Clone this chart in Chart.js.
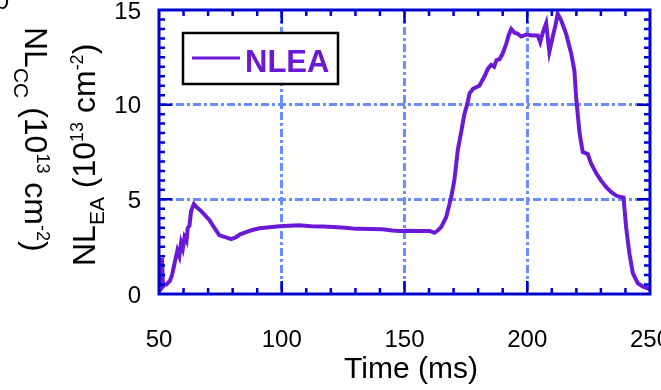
<!DOCTYPE html>
<html>
<head>
<meta charset="utf-8">
<script src="https://cdn.jsdelivr.net/npm/chart.js@4/dist/chart.umd.min.js"></script>
<style>
  html, body { margin: 0; padding: 0; background: #fff; }
  #nlChart { display: block; }
</style>
</head>
<body>
<canvas id="nlChart" width="661" height="390"></canvas>
<script>
// line-integrated density trace, time in ms
const timeMs = [50, 50.6, 51.2, 51.6, 52.2, 53, 54.5, 55.3, 56.3, 57.5, 58.3, 59, 59.7, 60.4, 61.2, 61.7,
    62.4, 63.1, 64.2, 65.2, 67, 70.6, 72.5, 74.6, 77, 79.4, 81.4, 83, 85.5, 88, 91, 95, 99, 103, 107,
    112, 117, 120.7, 126, 130.3, 136, 141, 145, 148, 152, 156, 160.2, 162.2, 163.5, 165, 167, 169,
    170.3, 171.7, 173, 174.4, 175.5, 176.5, 178, 180.5, 182.6, 184, 185.3, 186.5, 187.5, 188.7, 190,
    191.4, 192.5, 193.5, 194.8, 196, 197.5, 199.6, 202, 204.3, 205.3, 206.3, 207.7, 209, 210.4, 211.5,
    212.4, 213.8, 215.8, 217.9, 219.2, 219.9, 221.3, 222.6, 224.6, 226, 228, 230, 232.1, 234, 236.2,
    238, 239.2, 240.3, 241.6, 243, 245, 247, 249.1, 250];
const nlea = [0.1, 0.6, 1.9, 0.4, 0.5, 0.5, 0.7, 1.0, 1.6, 2.3, 2.0, 2.7, 2.4, 3.0, 2.8, 3.5,
    3.6, 4.4, 4.75, 4.6, 4.4, 3.9, 3.5, 3.1, 3.0, 2.9, 3.0, 3.15, 3.27, 3.38, 3.47, 3.52, 3.58, 3.6, 3.63,
    3.58, 3.56, 3.54, 3.5, 3.44, 3.43, 3.42, 3.36, 3.33, 3.34, 3.33, 3.33, 3.23, 3.35, 3.55, 4.07, 5.1,
    6.0, 7.6, 8.5, 9.5, 10.0, 10.6, 10.85, 11.0, 11.5, 11.9, 12.1, 12.0, 12.35, 12.4, 12.7,
    13.2, 13.7, 14.0, 13.8, 13.75, 13.6, 13.7, 13.65, 13.65, 13.3, 13.8, 14.3, 12.8, 13.6, 14.2,
    14.8, 14.45, 13.75, 12.7, 11.8, 10.4, 8.5, 7.5, 7.4, 6.9, 6.4, 6.0, 5.65, 5.4, 5.2,
    5.12, 5.1, 3.5, 2.15, 1.1, 0.57, 0.4, 0.3, 0.25];

const xTicks = [50, 100, 150, 200, 250];
const yTicks = [0, 5, 10, 15];

const lineColor = '#6a1ad6';
const frameColor = '#0000cc';
const gridColor = '#6a8cff';
const FONT = '"Liberation Sans", Arial, sans-serif';

// draws a run of text pieces (for sub/superscripts) along a rotated baseline
function drawRuns(ctx, runs, x, y, angle) {
    ctx.save();
    ctx.translate(x, y);
    ctx.rotate(angle);
    ctx.fillStyle = '#000';
    ctx.textBaseline = 'alphabetic';
    ctx.textAlign = 'left';
    let cx = 0;
    runs.forEach(r => {
        ctx.font = r.size + 'px ' + FONT;
        ctx.fillText(r.t, cx, r.dy || 0);
        cx += ctx.measureText(r.t).width;
    });
    ctx.restore();
}

const framePlugin = {
    id: 'frame',
    afterDatasetsDraw(chart) {
        const ctx = chart.ctx;
        const { left, right, top, bottom } = chart.chartArea;
        const xs = chart.scales.x, ys = chart.scales.y;

        ctx.save();
        ctx.strokeStyle = frameColor;
        ctx.lineWidth = 3;
        ctx.strokeRect(left, top, right - left, bottom - top);

        // inward ticks on all four sides
        ctx.lineWidth = 2.5;
        ctx.beginPath();
        for (let v = 60; v < 250; v += 10) {
            const px = xs.getPixelForValue(v);
            const len = v % 50 === 0 ? 13 : 6;
            ctx.moveTo(px, bottom); ctx.lineTo(px, bottom - len);
            ctx.moveTo(px, top); ctx.lineTo(px, top + len);
        }
        for (let v = 0.5; v < 15; v += 0.5) {
            const py = ys.getPixelForValue(v);
            const len = v % 5 === 0 ? 13 : 6;
            ctx.moveTo(left, py); ctx.lineTo(left + len, py);
            ctx.moveTo(right, py); ctx.lineTo(right - len, py);
        }
        ctx.stroke();

        // tick labels
        ctx.fillStyle = '#000';
        ctx.font = '24px ' + FONT;
        ctx.textAlign = 'center';
        ctx.textBaseline = 'alphabetic';
        xTicks.forEach(v => ctx.fillText(String(v), xs.getPixelForValue(v), 347));
        ctx.textAlign = 'right';
        ctx.textBaseline = 'middle';
        yTicks.forEach(v => ctx.fillText(String(v), 141, ys.getPixelForValue(v) + 2));

        // x axis title
        ctx.font = '30px ' + FONT;
        ctx.textAlign = 'center';
        ctx.textBaseline = 'alphabetic';
        ctx.fillText('Time (ms)', 411, 378);

        // y axis titles, one reading downwards and one reading upwards
        drawRuns(ctx, [
            { t: 'NL', size: 32 }, { t: 'CC', size: 21, dy: 11 },
            { t: ' (10', size: 32 }, { t: '13', size: 18, dy: -12 },
            { t: ' cm', size: 32 }, { t: '-2', size: 18, dy: -12 }, { t: ')', size: 32 }
        ], 25, 27, Math.PI / 2);
        drawRuns(ctx, [
            { t: 'NL', size: 32 }, { t: 'EA', size: 21, dy: 9 },
            { t: ' (10', size: 32 }, { t: '13', size: 18, dy: -12 },
            { t: ' cm', size: 32 }, { t: '-2', size: 18, dy: -12 }, { t: ')', size: 32 }
        ], 95, 266, -Math.PI / 2);

        // fragment of a neighbouring label at the corner
        ctx.font = '24px ' + FONT;
        ctx.textAlign = 'right';
        ctx.textBaseline = 'alphabetic';
        ctx.fillText('0', 9, 9);

        // legend box
        ctx.fillStyle = '#fff';
        ctx.fillRect(183, 33, 155, 51);
        ctx.strokeStyle = '#000';
        ctx.lineWidth = 2.5;
        ctx.strokeRect(183, 33, 155, 51);
        ctx.strokeStyle = lineColor;
        ctx.lineWidth = 3;
        ctx.beginPath();
        ctx.moveTo(192, 58); ctx.lineTo(240, 58);
        ctx.stroke();
        ctx.fillStyle = lineColor;
        ctx.font = 'bold 31px ' + FONT;
        ctx.textAlign = 'left';
        ctx.fillText('NLEA', 245, 72);
        ctx.restore();
    }
};

new Chart(document.getElementById('nlChart'), {
    type: 'line',
    data: {
        datasets: [{
            label: 'NLEA',
            data: timeMs.map((t, i) => ({ x: t, y: nlea[i] })),
            borderColor: lineColor,
            borderWidth: 4,
            pointRadius: 0,
            tension: 0,
            fill: false
        }]
    },
    options: {
        responsive: false,
        animation: false,
        layout: { padding: { left: 159, right: 11, top: 10, bottom: 96 } },
        plugins: { legend: { display: false }, tooltip: { enabled: false } },
        scales: {
            x: {
                type: 'linear', min: 50, max: 250,
                ticks: { display: false, stepSize: 50 },
                grid: {
                    drawTicks: false, lineWidth: 3,
                    color: c => (c.tick && (c.tick.value === 50 || c.tick.value === 250)) ? 'rgba(0,0,0,0)' : gridColor
                },
                border: { display: false, dash: [8, 3, 3, 3] }
            },
            y: {
                min: 0, max: 15,
                ticks: { display: false, stepSize: 5 },
                grid: {
                    drawTicks: false, lineWidth: 3,
                    color: c => (c.tick && (c.tick.value === 0 || c.tick.value === 15)) ? 'rgba(0,0,0,0)' : gridColor
                },
                border: { display: false, dash: [8, 3, 3, 3] }
            }
        }
    },
    plugins: [framePlugin]
});
</script>
</body>
</html>
